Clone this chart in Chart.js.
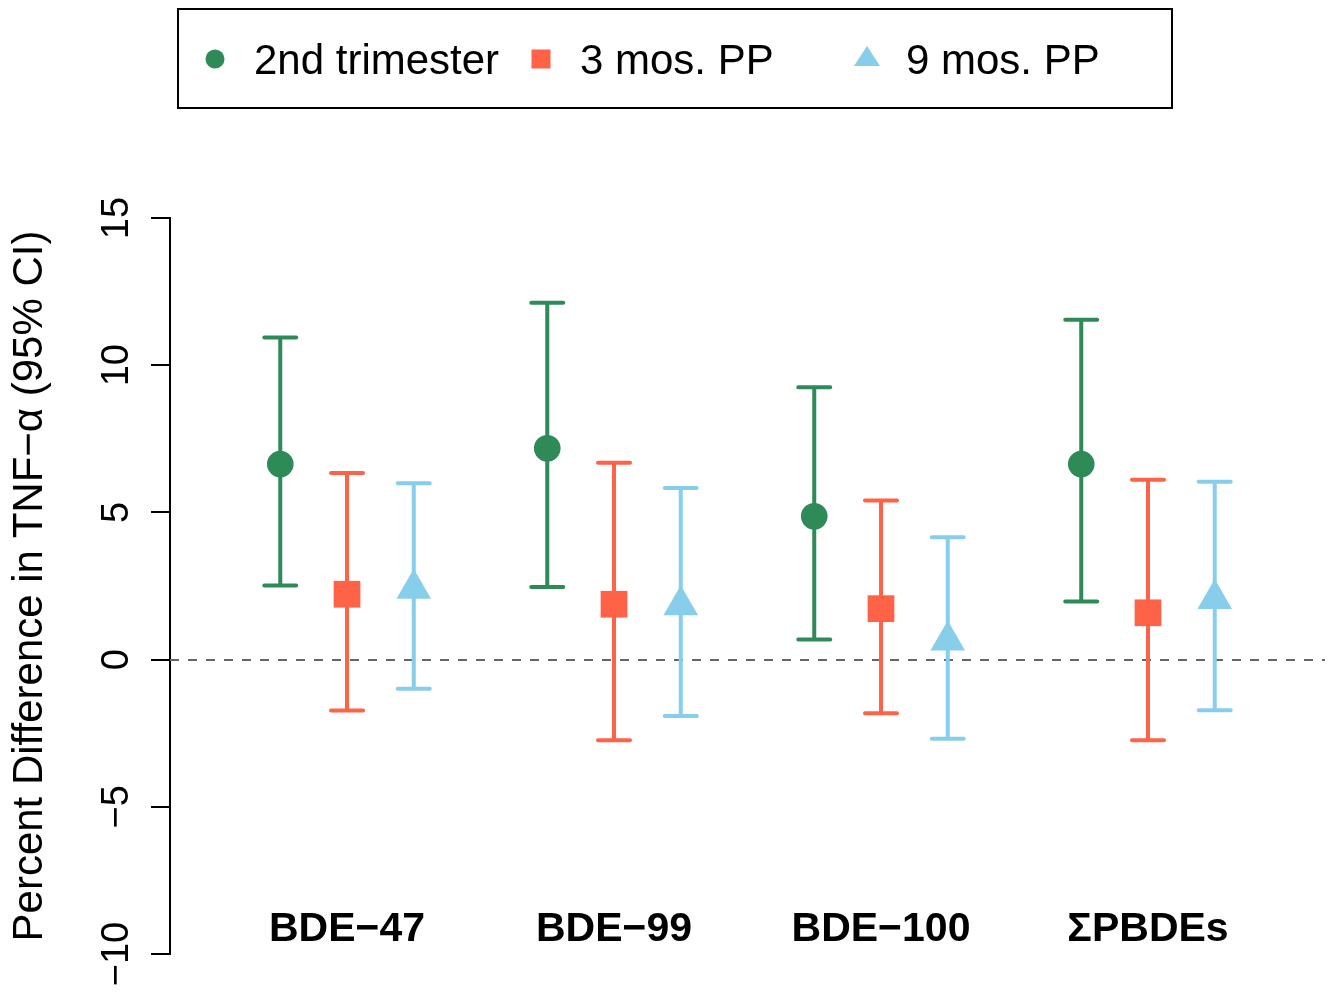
<!DOCTYPE html>
<html>
<head>
<meta charset="utf-8">
<script src="https://cdn.jsdelivr.net/npm/chart.js@4/dist/chart.umd.min.js"></script>
<style>
  html, body { margin: 0; padding: 0; background: #fff; overflow: hidden; }
  #wrap { width: 1328px; height: 992px; }
  canvas { display: block; }
</style>
</head>
<body>
<div id="wrap"><canvas id="chart" width="1328" height="992"></canvas></div>
<script>
// categories and values (percent difference, 95% CI)
const categories = ['BDE\u221247', 'BDE\u221299', 'BDE\u2212100', '\u03A3PBDEs'];

const trimEst = [6.64, 7.18, 4.87, 6.64];
const trimLow = [2.52, 2.47, 0.68, 1.97];
const trimUp  = [10.94, 12.12, 9.25, 11.54];

const pp3Est = [2.22, 1.88, 1.73, 1.59];
const pp3Low = [-1.73, -2.74, -1.82, -2.74];
const pp3Up  = [6.34, 6.69, 5.40, 6.11];

const pp9Est = [2.41, 1.85, 0.65, 2.06];
const pp9Low = [-0.99, -1.92, -2.69, -1.72];
const pp9Up  = [5.99, 5.83, 4.16, 6.04];

const yTicks = [-10, -5, 0, 5, 10, 15];
const refLine = 0;

const FONT = '"Liberation Sans", Arial, Helvetica, sans-serif';

function points(values, offset) {
    return values.map((v, i) => ({ x: i + 1 + offset, y: v }));
}

// error bars drawn under the points
const errorBars = {
    id: 'errorBars',
    beforeDatasetsDraw(chart) {
        const ctx = chart.ctx;
        const y = chart.scales.y;
        // dashed reference line at zero
        ctx.save();
        ctx.strokeStyle = '#666666';
        ctx.lineWidth = 2;
        ctx.setLineDash([9, 9]);
        ctx.beginPath();
        const y0 = Math.round(y.getPixelForValue(refLine));
        ctx.moveTo(chart.chartArea.left, y0);
        ctx.lineTo(chart.chartArea.right, y0);
        ctx.stroke();
        ctx.restore();

        chart.data.datasets.forEach((ds, di) => {
            const meta = chart.getDatasetMeta(di);
            ctx.save();
            ctx.strokeStyle = ds.backgroundColor;
            ctx.lineWidth = 4;
            ctx.lineCap = 'round';
            meta.data.forEach((pt, i) => {
                const lo = y.getPixelForValue(ds.lower[i]);
                const hi = y.getPixelForValue(ds.upper[i]);
                ctx.beginPath();
                ctx.moveTo(pt.x, lo);
                ctx.lineTo(pt.x, hi);
                ctx.moveTo(pt.x - 16, lo);
                ctx.lineTo(pt.x + 16, lo);
                ctx.moveTo(pt.x - 16, hi);
                ctx.lineTo(pt.x + 16, hi);
                ctx.stroke();
            });
            ctx.restore();
        });
    }
};

// rotated y tick labels and bold category labels
const axisText = {
    id: 'axisText',
    afterDraw(chart) {
        const ctx = chart.ctx;
        const y = chart.scales.y;
        const x = chart.scales.x;
        ctx.save();
        ctx.fillStyle = '#000';
        ctx.font = '38px ' + FONT;
        ctx.textAlign = 'center';
        ctx.textBaseline = 'alphabetic';
        yTicks.forEach(v => {
            const label = v < 0 ? '\u2212' + Math.abs(v) : String(v);
            ctx.save();
            ctx.translate(128, y.getPixelForValue(v));
            ctx.rotate(-Math.PI / 2);
            ctx.fillText(label, 0, 0);
            ctx.restore();
        });
        ctx.font = 'bold 41px ' + FONT;
        categories.forEach((c, i) => {
            ctx.fillText(c, x.getPixelForValue(i + 1), chart.chartArea.bottom - 13);
        });
        ctx.restore();
    }
};

// boxed legend in the style of the original
const boxLegend = {
    id: 'boxLegend',
    afterDraw(chart) {
        const ctx = chart.ctx;
        ctx.save();
        ctx.strokeStyle = '#000';
        ctx.lineWidth = 2;
        ctx.strokeRect(178, 9, 994, 99);
        ctx.font = '42px ' + FONT;
        ctx.textAlign = 'left';
        ctx.textBaseline = 'alphabetic';
        chart.data.datasets.forEach((ds, i) => {
            const mx = 215 + i * 326;
            const my = 59;
            ctx.fillStyle = ds.backgroundColor;
            ctx.beginPath();
            if (ds.pointStyle === 'circle') {
                ctx.arc(mx, my, 9.5, 0, Math.PI * 2);
            } else if (ds.pointStyle === 'rect') {
                ctx.rect(mx - 9.5, my - 9.5, 19, 19);
            } else {
                ctx.moveTo(mx, my - 13);
                ctx.lineTo(mx + 13, my + 7);
                ctx.lineTo(mx - 13, my + 7);
                ctx.closePath();
            }
            ctx.fill();
            ctx.fillStyle = '#000';
            ctx.fillText(ds.label, mx + 39, 74);
        });
        ctx.restore();
    }
};

const chart = new Chart(document.getElementById('chart'), {
    type: 'scatter',
    data: {
        datasets: [
            {
                label: '2nd trimester',
                data: points(trimEst, -0.25),
                lower: trimLow,
                upper: trimUp,
                backgroundColor: '#2E8B57',
                borderColor: '#2E8B57',
                borderWidth: 0,
                pointStyle: 'circle',
                pointRadius: 13.3,
                pointHoverRadius: 13.3
            },
            {
                label: '3 mos. PP',
                data: points(pp3Est, 0),
                lower: pp3Low,
                upper: pp3Up,
                backgroundColor: '#FF6347',
                borderColor: '#FF6347',
                borderWidth: 0,
                pointStyle: 'rect',
                pointRadius: 18.9,
                pointHoverRadius: 18.9
            },
            {
                label: '9 mos. PP',
                data: points(pp9Est, 0.25),
                lower: pp9Low,
                upper: pp9Up,
                backgroundColor: '#87CEEB',
                borderColor: '#87CEEB',
                borderWidth: 0,
                pointStyle: 'triangle',
                pointRadius: 20,
                pointHoverRadius: 20
            }
        ]
    },
    options: {
        responsive: false,
        animation: false,
        layout: {
            autoPadding: false,
            padding: { top: 218, bottom: 38, left: 0, right: 3 }
        },
        plugins: {
            legend: { display: false },
            tooltip: { enabled: false }
        },
        scales: {
            x: {
                type: 'linear',
                display: false,
                min: 0.337,
                max: 4.663
            },
            y: {
                min: -10,
                max: 15,
                afterFit: scale => { scale.width = 170; },
                ticks: { display: false, stepSize: 5 },
                grid: {
                    drawOnChartArea: false,
                    drawTicks: true,
                    tickLength: 19,
                    color: '#000',
                    lineWidth: 2
                },
                border: { display: true, color: '#000', width: 2 },
                title: {
                    display: true,
                    text: 'Percent Difference in TNF\u2212\u03B1 (95% CI)',
                    color: '#000',
                    font: { family: FONT, size: 42 },
                    padding: { top: 5, bottom: 0 }
                }
            }
        }
    },
    plugins: [errorBars, axisText, boxLegend]
});
</script>
</body>
</html>
